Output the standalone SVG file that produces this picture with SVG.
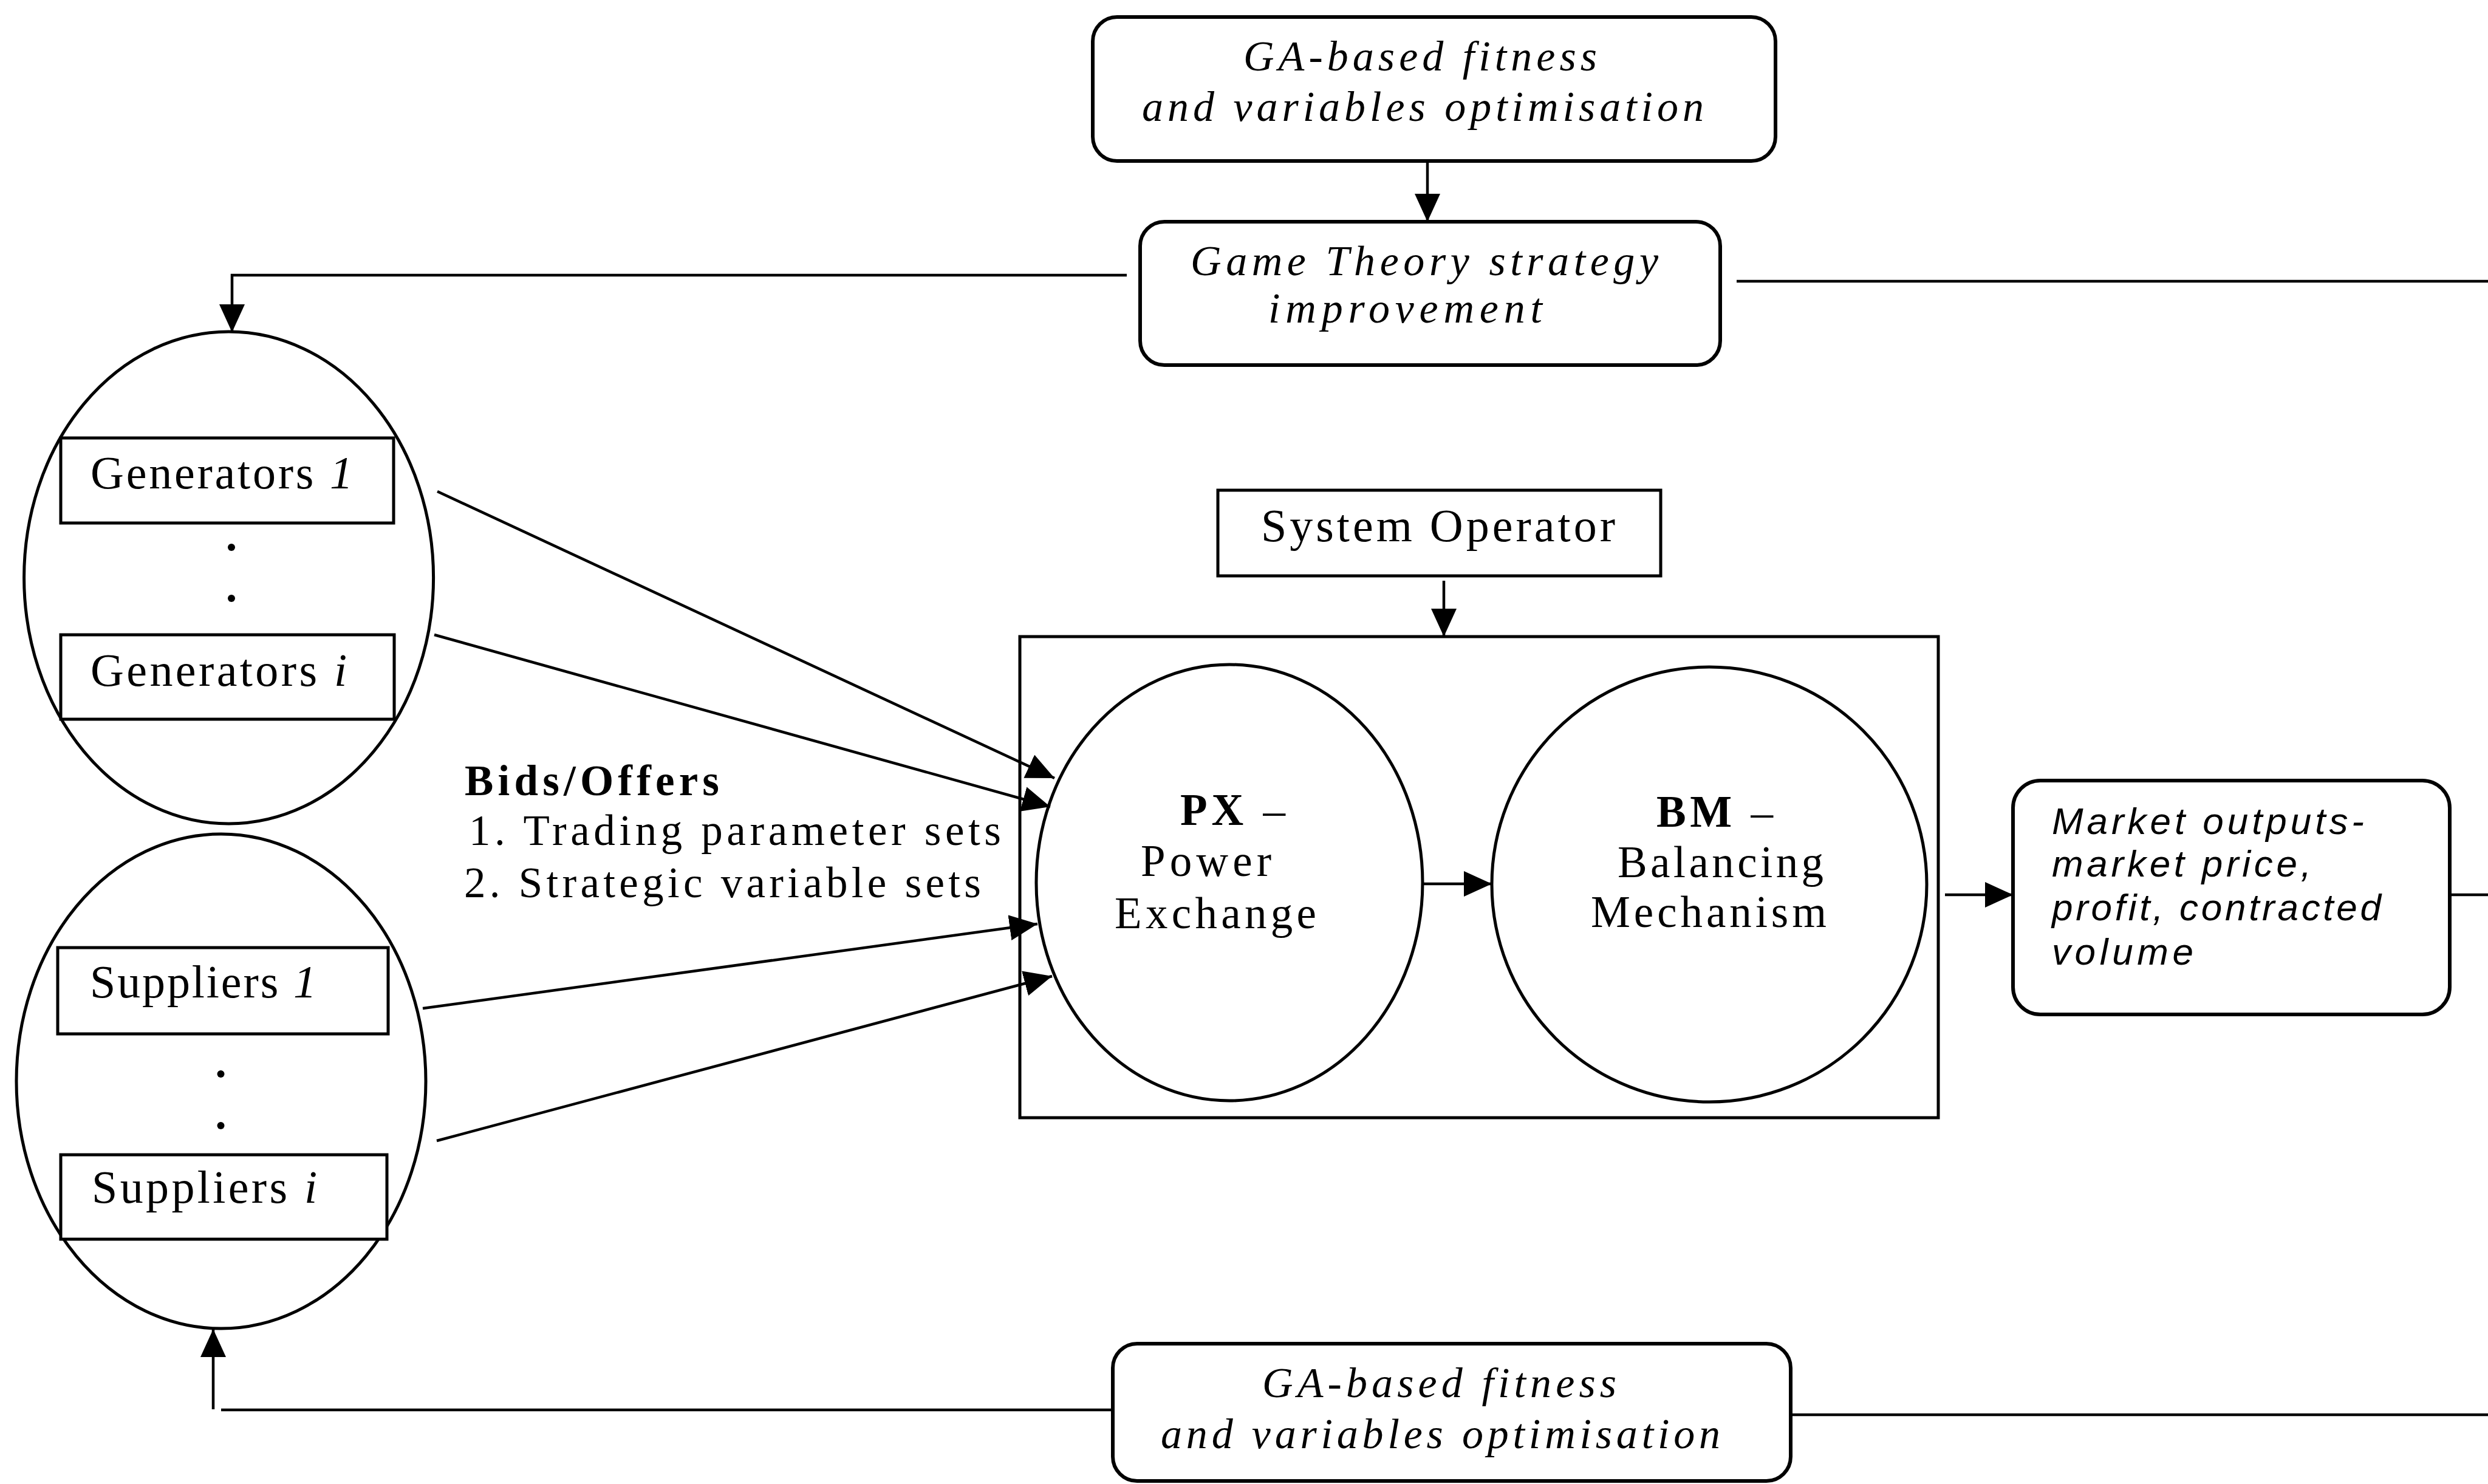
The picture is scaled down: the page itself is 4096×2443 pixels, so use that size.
<svg xmlns="http://www.w3.org/2000/svg" width="4096" height="2443" viewBox="0 0 4096 2443">
<style>
  .shape { fill: #ffffff; stroke: #000000; stroke-width: 5; }
  .rbox { fill: #ffffff; stroke: #000000; stroke-width: 6; }
  .conn { fill: none; stroke: #000000; stroke-width: 4.5; }
  .serif { font-family: "Liberation Serif", "Times New Roman", serif; fill: #000000; }
  .ital { font-family: "Liberation Serif", "Times New Roman", serif; font-style: italic; fill: #000000; font-size: 70px; }
  .lbl { font-size: 76px; }
  .core { font-size: 73px; }
  .bids { font-size: 71px; }
  .sans { font-family: "Liberation Sans", Arial, sans-serif; font-style: italic; font-size: 62px; fill: #000000; }
  .dot { fill: #000000; }
</style>
<defs>
  <marker id="arrow" markerUnits="userSpaceOnUse" markerWidth="46" markerHeight="42" refX="46" refY="21" orient="auto">
    <path d="M0,0 L46,21 L0,42 Z" fill="#000000"/>
  </marker>
</defs>
<rect width="4096" height="2443" fill="#ffffff"/>

<g id="ga-top">
  <rect class="rbox" x="1799" y="28" width="1124" height="237" rx="40" ry="40"/>
  <text class="ital" x="2047" y="116" textLength="582" lengthAdjust="spacing">GA-based fitness</text>
  <text class="ital" x="1880" y="199" textLength="925" lengthAdjust="spacing">and variables optimisation</text>
</g>

<g id="game-theory">
  <rect class="rbox" x="1877" y="365" width="955" height="236" rx="40" ry="40"/>
  <text class="ital" x="1960" y="453" textLength="770" lengthAdjust="spacing">Game Theory strategy</text>
  <text class="ital" x="2088" y="531" textLength="451" lengthAdjust="spacing">improvement</text>
</g>

<g id="generators">
  <ellipse class="shape" cx="376.6" cy="951" rx="337" ry="405"/>
  <rect class="shape" x="100" y="721" width="548" height="140"/>
  <text class="serif lbl" x="149" y="804" textLength="432" lengthAdjust="spacing">Generators <tspan font-style="italic">1</tspan></text>
  <circle class="dot" cx="381" cy="901" r="6"/>
  <circle class="dot" cx="381" cy="985" r="6"/>
  <rect class="shape" x="100" y="1045" width="549" height="139"/>
  <text class="serif lbl" x="149" y="1129" textLength="422" lengthAdjust="spacing">Generators <tspan font-style="italic">i</tspan></text>
</g>

<g id="suppliers">
  <ellipse class="shape" cx="364" cy="1780" rx="337" ry="407"/>
  <rect class="shape" x="95" y="1560" width="544" height="142"/>
  <text class="serif lbl" x="148" y="1642" textLength="373" lengthAdjust="spacing">Suppliers <tspan font-style="italic">1</tspan></text>
  <circle class="dot" cx="363.5" cy="1768" r="6"/>
  <circle class="dot" cx="363.5" cy="1853" r="6"/>
  <rect class="shape" x="100" y="1901" width="537" height="139"/>
  <text class="serif lbl" x="151" y="1980" textLength="371" lengthAdjust="spacing">Suppliers <tspan font-style="italic">i</tspan></text>
</g>

<g id="bids-offers">
  <text class="serif bids" x="765" y="1309" font-weight="bold" textLength="419" lengthAdjust="spacing">Bids/Offers</text>
  <text class="serif bids" x="772" y="1391" textLength="876" lengthAdjust="spacing">1. Trading parameter sets</text>
  <text class="serif bids" x="764" y="1477" textLength="851" lengthAdjust="spacing">2. Strategic variable sets</text>
</g>

<g id="system-operator">
  <rect class="shape" x="2005" y="807" width="729" height="141"/>
  <text class="serif lbl" x="2076" y="891" textLength="583" lengthAdjust="spacing">System Operator</text>
</g>

<g id="market-core">
  <rect class="shape" x="1679" y="1048" width="1512" height="792"/>
</g>

<g id="px">
  <ellipse class="shape" cx="2024" cy="1453" rx="318" ry="359"/>
  <text class="serif core" x="1943" y="1358" textLength="173" lengthAdjust="spacing"><tspan font-weight="bold">PX</tspan> –</text>
  <text class="serif core" x="1878" y="1442" textLength="215" lengthAdjust="spacing">Power</text>
  <text class="serif core" x="1835" y="1528" textLength="332" lengthAdjust="spacing">Exchange</text>
</g>

<g id="bm">
  <ellipse class="shape" cx="2814" cy="1456" rx="358" ry="358"/>
  <text class="serif core" x="2727" y="1361" textLength="192" lengthAdjust="spacing"><tspan font-weight="bold">BM</tspan> –</text>
  <text class="serif core" x="2663" y="1444" textLength="339" lengthAdjust="spacing">Balancing</text>
  <text class="serif core" x="2619" y="1526" textLength="388" lengthAdjust="spacing">Mechanism</text>
</g>

<g id="market-outputs">
  <rect class="rbox" x="3314" y="1285" width="719" height="385" rx="45" ry="45"/>
  <text class="sans" x="3378" y="1373" textLength="514" lengthAdjust="spacing">Market outputs-</text>
  <text class="sans" x="3378" y="1443" textLength="427" lengthAdjust="spacing">market price,</text>
  <text class="sans" x="3378" y="1515" textLength="542" lengthAdjust="spacing">profit, contracted</text>
  <text class="sans" x="3378" y="1588" textLength="233" lengthAdjust="spacing">volume</text>
</g>

<g id="ga-bottom">
  <rect class="rbox" x="1832" y="2212" width="1116" height="226" rx="40" ry="40"/>
  <text class="ital" x="2078" y="2300" textLength="583" lengthAdjust="spacing">GA-based fitness</text>
  <text class="ital" x="1911" y="2384" textLength="921" lengthAdjust="spacing">and variables optimisation</text>
</g>

<g id="connectors">
  <line class="conn" x1="2350" y1="265" x2="2350" y2="365" marker-end="url(#arrow)"/>
  <polyline class="conn" points="1855,453 382,453 382,547" marker-end="url(#arrow)"/>
  <line class="conn" x1="2859" y1="463" x2="4096" y2="463"/>
  <line class="conn" x1="2377" y1="956" x2="2377" y2="1048" marker-end="url(#arrow)"/>
  <line class="conn" x1="720" y1="809" x2="1736" y2="1281" marker-end="url(#arrow)"/>
  <line class="conn" x1="715" y1="1045" x2="1729" y2="1328" marker-end="url(#arrow)"/>
  <line class="conn" x1="696" y1="1660" x2="1708" y2="1521" marker-end="url(#arrow)"/>
  <line class="conn" x1="719" y1="1878" x2="1732" y2="1607" marker-end="url(#arrow)"/>
  <line class="conn" x1="2343" y1="1455" x2="2456" y2="1455" marker-end="url(#arrow)"/>
  <line class="conn" x1="3202" y1="1473" x2="3314" y2="1473" marker-end="url(#arrow)"/>
  <line class="conn" x1="4036" y1="1473" x2="4096" y2="1473"/>
  <line class="conn" x1="351" y1="2320" x2="351" y2="2188" marker-end="url(#arrow)"/>
  <line class="conn" x1="364" y1="2321" x2="1832" y2="2321"/>
  <line class="conn" x1="2948" y1="2329" x2="4096" y2="2329"/>
</g>
</svg>
